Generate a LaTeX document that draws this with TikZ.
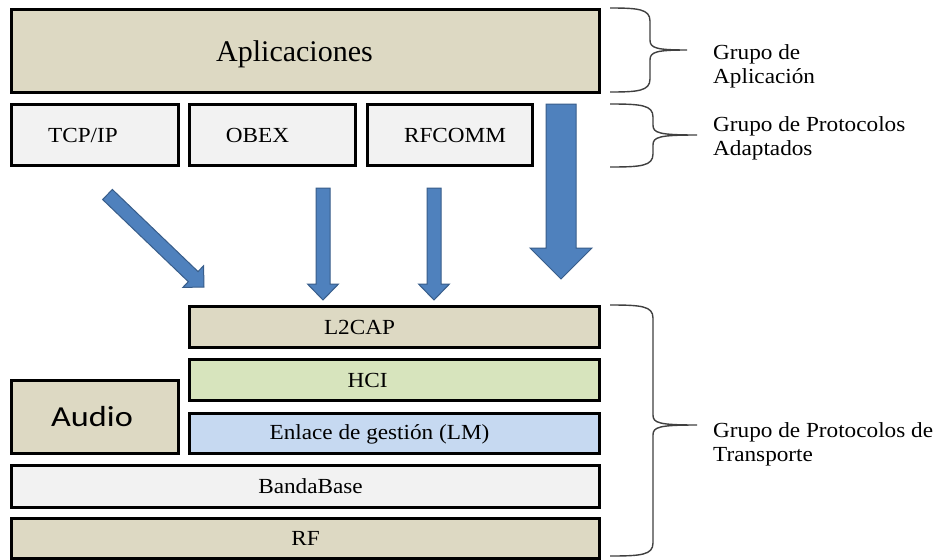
\documentclass[tikz,border=0pt]{standalone}
\usepackage{fontspec}
\setmainfont[FakeStretch=1.08]{Liberation Serif}
\newfontfamily\appfont{Liberation Serif}
\newfontfamily\audiofont[FakeStretch=1.18]{Carlito}
\usetikzlibrary{calc}

\definecolor{tanfill}{HTML}{DDD9C3}
\definecolor{greyfill}{HTML}{F2F2F2}
\definecolor{greenfill}{HTML}{D7E4BD}
\definecolor{bluefill}{HTML}{C6D9F1}
\definecolor{arrowfill}{HTML}{4F81BD}
\definecolor{arrowedge}{HTML}{385D8A}
\definecolor{bracegrey}{HTML}{404040}

\tikzset{
  layer/.style={draw=black, line width=3pt, rectangle, inner sep=0pt},
  every label/.style={inner sep=0pt, font=\fontsize{21.5}{24}\selectfont},
  blockarrow/.style={fill=arrowfill, draw=arrowedge, line width=1pt, line join=miter},
  bracestyle/.style={draw=bracegrey, line width=1.4pt},
  grouplabel/.style={anchor=north west, inner sep=0pt, align=left,
    font=\fontsize{21.5}{24.5}\selectfont},
}

% block arrow: tail centre, tip, half shaft width, half head width, head length
\newcommand{\blockarrow}[5]{%
  \path ($(#2)!#5!(#1)$) coordinate (#2-base);
  \filldraw[blockarrow]
    ($(#1)!#3!90:(#2)$) -- ($(#2-base)!#3!90:(#2)$) -- ($(#2-base)!#4!90:(#2)$)
    -- (#2) -- ($(#2-base)!#4!-90:(#2)$) -- ($(#2-base)!#3!-90:(#2)$)
    -- ($(#1)!#3!-90:(#2)$) -- cycle;}

% curly brace: top y, middle y, bottom y, spine x, tip x
\newcommand{\groupbrace}[5]{%
  \draw[bracestyle] (610,#1) .. controls (#4-12,#1) and (#4,#1+1) .. (#4,#1+13)
    -- (#4,#2-10) .. controls (#4,#2-2) and (#4+6,#2) .. (#5,#2)
    .. controls (#4+6,#2) and (#4,#2+2) .. (#4,#2+10)
    -- (#4,#3-13) .. controls (#4,#3-1) and (#4-12,#3) .. (610,#3);}

\begin{document}
\begin{tikzpicture}[x=1pt, y=-1pt]
\useasboundingbox (0,0) rectangle (938,560);
\fill[white] (0,0) rectangle (938,560);

% application layer
\node[layer, fill=tanfill, minimum width=588pt, minimum height=83pt,
  label={[xshift=-11pt, yshift=-3pt, font=\appfont\fontsize{30}{32}\selectfont]center:Aplicaciones}]
  (app) at (305.5,51) {};

% adapted protocols
\node[layer, fill=greyfill, minimum width=167pt, minimum height=61pt,
  label={[xshift=-12pt]center:TCP/IP}] (tcp) at (95,135) {};
\node[layer, fill=greyfill, minimum width=166pt, minimum height=61pt,
  label={[xshift=-15pt]center:OBEX}] (obex) at (272.5,135) {};
\node[layer, fill=greyfill, minimum width=165pt, minimum height=61pt,
  label={[xshift=5pt]center:RFCOMM}] (rfcomm) at (450,135) {};

% transport protocols
\node[layer, fill=tanfill, minimum width=410pt, minimum height=41pt,
  label={[xshift=-35pt]center:L2CAP}] (l2cap) at (394.5,327) {};
\node[layer, fill=greenfill, minimum width=410pt, minimum height=41pt,
  label={[xshift=-27pt]center:HCI}] (hci) at (394.5,380) {};
\node[layer, fill=bluefill, minimum width=410pt, minimum height=40pt,
  label={[xshift=-15pt, yshift=-1pt]center:Enlace de gesti\'on (LM)}] (lm) at (394.5,433.5) {};
\node[layer, fill=tanfill, minimum width=167pt, minimum height=73pt,
  label={[xshift=-3pt, font=\audiofont\fontsize{29}{32}\selectfont]center:Audio}]
  (audio) at (95,417) {};
\node[layer, fill=greyfill, minimum width=588pt, minimum height=42pt,
  label={[xshift=5pt]center:BandaBase}] (bb) at (305.5,486.5) {};
\node[layer, fill=tanfill, minimum width=588pt, minimum height=40pt,
  label={center:RF}] (rf) at (305.5,538) {};

% data-flow arrows
\coordinate (tcpT) at (107.5,194.5);  \coordinate (tcpH) at (204,287);
\coordinate (obexT) at (323,188);     \coordinate (obexH) at (323,300);
\coordinate (rfcT) at (434,188);      \coordinate (rfcH) at (434,300);
\coordinate (appT) at (561,104);      \coordinate (appH) at (561,279);
\blockarrow{tcpT}{tcpH}{7pt}{15pt}{15pt}
\blockarrow{obexT}{obexH}{7pt}{15.5pt}{16pt}
\blockarrow{rfcT}{rfcH}{7pt}{15.5pt}{16pt}
\blockarrow{appT}{appH}{15pt}{31pt}{31pt}

% group braces and their labels
\groupbrace{8}{50}{92}{650}{687}
\groupbrace{104}{135}{167}{653}{697}
\groupbrace{305}{425}{556}{653}{697}
\node[grouplabel] (gapp) at (713,44) {Grupo de\\Aplicaci\'on};
\node[grouplabel] (gadapt) at (713,116) {Grupo de Protocolos\\Adaptados};
\node[grouplabel] (gtrans) at (713,422) {Grupo de Protocolos de\\Transporte};
\end{tikzpicture}
\end{document}
